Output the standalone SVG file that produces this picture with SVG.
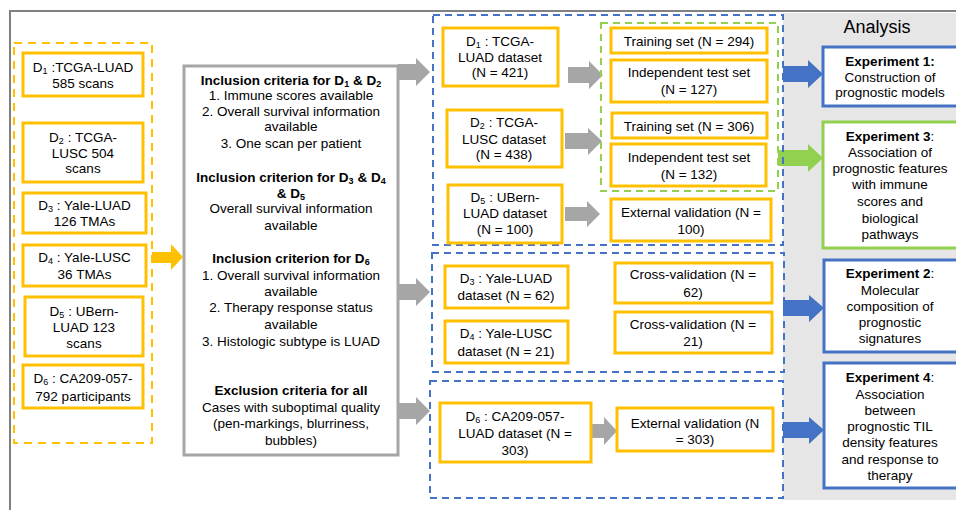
<svg xmlns="http://www.w3.org/2000/svg" width="956" height="510" viewBox="0 0 956 510">
<style>
.t{font-family:"Liberation Sans",Arial,sans-serif;font-size:13.5px;fill:#000;text-anchor:middle}
.b{font-weight:bold}
.s{font-size:9px}
.y{fill:#fff;stroke:#FFC000;stroke-width:3}
.bd{fill:none;stroke:#4472C4;stroke-width:2;stroke-dasharray:7 5}
.gd{fill:none;stroke:#92D050;stroke-width:2;stroke-dasharray:7 5}
.yd{fill:none;stroke:#FFC000;stroke-width:2;stroke-dasharray:8 6}
.ga{fill:#A6A6A6}
.ba{fill:#4472C4}
</style>
<rect x="0" y="0" width="956" height="510" fill="#fff"/>
<rect x="783" y="13" width="173" height="487" fill="#E7E6E6"/>
<path d="M10 510 V11 H956" fill="none" stroke="#808080" stroke-width="2"/>
<rect class="yd" x="14" y="43" width="138" height="400"/>
<g id="connectors">
<polygon fill="#FFC000" points="152,252 171,252 171,244 183,257 171,270 171,263 152,263"/>
<polygon class="ga" points="398,64 416,64 416,58 430,72 416,86 416,80 398,80"/>
<polygon class="ga" points="398,284 416,284 416,278 430,292 416,306 416,300 398,300"/>
<polygon class="ga" points="398,403 416,403 416,397 430,411 416,425 416,419 398,419"/>
<polygon class="ga" points="568,67 589,67 589,61 603,75 589,89 589,83 568,83"/>
<polygon class="ga" points="565,133 588,133 588,128 602,141 588,155 588,149 565,149"/>
<polygon class="ga" points="565,207 587,207 587,201 600,214 587,227 587,221 565,221"/>
<polygon class="ga" points="592,424 604,424 604,417 617,431 604,445 604,438 592,438"/>
<polygon class="ba" points="783,66 808,66 808,60 823,74 808,88 808,82 783,82"/>
<polygon fill="#92D050" points="778,150 808,150 808,144 823,158 808,172 808,166 778,166"/>
<polygon class="ba" points="783,300 809,300 809,295 824,308 809,322 809,316 783,316"/>
<polygon class="ba" points="783,422 809,422 809,417 824,430 809,444 809,438 783,438"/>
</g>
<rect class="bd" x="433" y="15" width="350" height="230"/>
<rect class="bd" x="432" y="253" width="352" height="119"/>
<rect class="bd" x="430" y="381" width="353" height="117"/>
<rect class="gd" x="601" y="23" width="177" height="168"/>
<g id="d1"><rect class="y" x="23" y="53" width="120" height="43"/><text class="t" x="83" y="71.5">D<tspan class="s" dy="2">1</tspan><tspan dy="-2"> :TCGA-LUAD</tspan></text><text class="t" x="83" y="87.5">585 scans</text></g>
<g id="d2"><rect class="y" x="23" y="123" width="120" height="59"/><text class="t" x="83" y="141.5">D<tspan class="s" dy="2">2</tspan><tspan dy="-2"> : TCGA-</tspan></text><text class="t" x="83" y="157.5">LUSC 504</text><text class="t" x="83" y="172.5">scans</text></g>
<g id="d3"><rect class="y" x="23" y="193" width="123" height="40"/><text class="t" x="84.5" y="209.5">D<tspan class="s" dy="2">3</tspan><tspan dy="-2"> : Yale-LUAD</tspan></text><text class="t" x="84.5" y="225.5">126 TMAs</text></g>
<g id="d4"><rect class="y" x="23" y="245" width="123" height="41"/><text class="t" x="84.5" y="261.5">D<tspan class="s" dy="2">4</tspan><tspan dy="-2"> : Yale-LUSC</tspan></text><text class="t" x="84.5" y="278.5">36 TMAs</text></g>
<g id="d5"><rect class="y" x="25" y="297" width="118" height="59"/><text class="t" x="84" y="315.5">D<tspan class="s" dy="2">5</tspan><tspan dy="-2"> : UBern-</tspan></text><text class="t" x="84" y="331.5">LUAD 123</text><text class="t" x="84" y="347.5">scans</text></g>
<g id="d6"><rect class="y" x="23" y="365" width="120" height="43"/><text class="t" x="83" y="382.5">D<tspan class="s" dy="2">6</tspan><tspan dy="-2"> : CA209-057-</tspan></text><text class="t" x="83" y="400.5">792 participants</text></g>
<g id="criteria"><rect x="184" y="66" width="214" height="389" fill="#fff" stroke="#A6A6A6" stroke-width="3"/>
<text class="t b" x="291" y="84.5">Inclusion criteria for D<tspan class="s" dy="2">1</tspan><tspan dy="-2"> &amp; D</tspan><tspan class="s" dy="2">2</tspan></text>
<text class="t" x="291" y="100">1. Immune scores available</text>
<text class="t" x="291" y="115.5">2. Overall survival information</text>
<text class="t" x="291" y="131">available</text>
<text class="t" x="291" y="147.5">3. One scan per patient</text>
<text class="t b" x="291" y="181.5">Inclusion criterion for D<tspan class="s" dy="2">3</tspan><tspan dy="-2"> &amp; D</tspan><tspan class="s" dy="2">4</tspan></text>
<text class="t b" x="291" y="197.5">&amp; D<tspan class="s" dy="2">5</tspan></text>
<text class="t" x="291" y="213">Overall survival information</text>
<text class="t" x="291" y="229.5">available</text>
<text class="t b" x="291" y="262.5">Inclusion criterion for D<tspan class="s" dy="2">6</tspan></text>
<text class="t" x="291" y="279.5">1. Overall survival information</text>
<text class="t" x="291" y="295.5">available</text>
<text class="t" x="291" y="311.5">2. Therapy response status</text>
<text class="t" x="291" y="328.5">available</text>
<text class="t" x="291" y="345.5">3. Histologic subtype is LUAD</text>
<text class="t b" x="291" y="394.5">Exclusion criteria for all</text>
<text class="t" x="291" y="411.5">Cases with suboptimal quality</text>
<text class="t" x="291" y="427.5">(pen-markings, blurriness,</text>
<text class="t" x="291" y="444.5">bubbles)</text></g>
<g id="d1set"><rect class="y" x="443" y="28" width="115" height="58"/><text class="t" x="500" y="46">D<tspan class="s" dy="2">1</tspan><tspan dy="-2"> : TCGA-</tspan></text><text class="t" x="500" y="62">LUAD dataset</text><text class="t" x="500" y="77">(N = 421)</text></g>
<g id="d2set"><rect class="y" x="447" y="110" width="115" height="57"/><text class="t" x="504" y="127">D<tspan class="s" dy="2">2</tspan><tspan dy="-2"> : TCGA-</tspan></text><text class="t" x="504" y="143.5">LUSC dataset</text><text class="t" x="504" y="158.5">(N = 438)</text></g>
<g id="d5set"><rect class="y" x="448" y="185" width="114" height="58"/><text class="t" x="505" y="202">D<tspan class="s" dy="2">5</tspan><tspan dy="-2"> : UBern-</tspan></text><text class="t" x="505" y="218">LUAD dataset</text><text class="t" x="505" y="233.5">(N = 100)</text></g>
<g id="train1"><rect class="y" x="611" y="28" width="156" height="25"/><text class="t" x="689" y="46">Training set (N = 294)</text></g>
<g id="test1"><rect class="y" x="611" y="60" width="156" height="42"/><text class="t" x="689" y="76.5">Independent test set</text><text class="t" x="689" y="93.5">(N = 127)</text></g>
<g id="train2"><rect class="y" x="612" y="113" width="155" height="25"/><text class="t" x="689" y="130.5">Training set (N = 306)</text></g>
<g id="test2"><rect class="y" x="611" y="144" width="155" height="42"/><text class="t" x="689" y="161.5">Independent test set</text><text class="t" x="689" y="178.5">(N = 132)</text></g>
<g id="ext100"><rect class="y" x="611" y="199" width="160" height="42"/><text class="t" x="691" y="216.5">External validation (N =</text><text class="t" x="691" y="233.5">100)</text></g>
<g id="d3set"><rect class="y" x="445" y="266" width="123" height="42"/><text class="t" x="506" y="283">D<tspan class="s" dy="2">3</tspan><tspan dy="-2"> : Yale-LUAD</tspan></text><text class="t" x="506" y="300">dataset (N = 62)</text></g>
<g id="d4set"><rect class="y" x="445" y="321" width="123" height="42"/><text class="t" x="506" y="338">D<tspan class="s" dy="2">4</tspan><tspan dy="-2"> : Yale-LUSC</tspan></text><text class="t" x="506" y="355.5">dataset (N = 21)</text></g>
<g id="cv62"><rect class="y" x="615" y="263" width="157" height="40"/><text class="t" x="693" y="278.5">Cross-validation (N =</text><text class="t" x="693" y="296.5">62)</text></g>
<g id="cv21"><rect class="y" x="615" y="312" width="157" height="41"/><text class="t" x="693" y="328.5">Cross-validation (N =</text><text class="t" x="693" y="345.5">21)</text></g>
<g id="d6set"><rect class="y" x="440" y="403" width="151" height="59"/><text class="t" x="515" y="421">D<tspan class="s" dy="2">6</tspan><tspan dy="-2"> : CA209-057-</tspan></text><text class="t" x="515" y="438">LUAD dataset (N =</text><text class="t" x="515" y="454.5">303)</text></g>
<g id="ext303"><rect class="y" x="617" y="408" width="156" height="43"/><text class="t" x="695" y="427.5">External validation (N</text><text class="t" x="695" y="443.5">= 303)</text></g>
<text class="t" x="877" y="32.5" style="font-size:18px">Analysis</text>
<g id="exp1"><rect x="823" y="47" width="140" height="59" fill="#fff" stroke="#4472C4" stroke-width="3"/><text class="t b" x="890" y="65.5">Experiment 1:</text><text class="t" x="890" y="81.5">Construction of</text><text class="t" x="890" y="96.5">prognostic models</text></g>
<g id="exp3"><rect x="823" y="122" width="140" height="126" fill="#fff" stroke="#92D050" stroke-width="3"/><text class="t" x="890" y="140.5"><tspan class="b">Experiment 3</tspan>:</text><text class="t" x="890" y="156.5">Association of</text><text class="t" x="890" y="172.5">prognostic features</text><text class="t" x="890" y="188.5">with immune</text><text class="t" x="890" y="205.5">scores and</text><text class="t" x="890" y="222.5">biological</text><text class="t" x="890" y="238.5">pathways</text></g>
<g id="exp2"><rect x="824" y="260" width="140" height="92" fill="#fff" stroke="#4472C4" stroke-width="3"/><text class="t" x="890" y="277.5"><tspan class="b">Experiment 2</tspan>:</text><text class="t" x="890" y="294.5">Molecular</text><text class="t" x="890" y="310.5">composition of</text><text class="t" x="890" y="326.5">prognostic</text><text class="t" x="890" y="342.5">signatures</text></g>
<g id="exp4"><rect x="824" y="363" width="140" height="125" fill="#fff" stroke="#4472C4" stroke-width="3"/><text class="t" x="890" y="381.5"><tspan class="b">Experiment 4</tspan>:</text><text class="t" x="890" y="398.5">Association</text><text class="t" x="890" y="414.5">between</text><text class="t" x="890" y="430.5">prognostic TIL</text><text class="t" x="890" y="446.5">density features</text><text class="t" x="890" y="463.5">and response to</text><text class="t" x="890" y="479.5">therapy</text></g>
</svg>
